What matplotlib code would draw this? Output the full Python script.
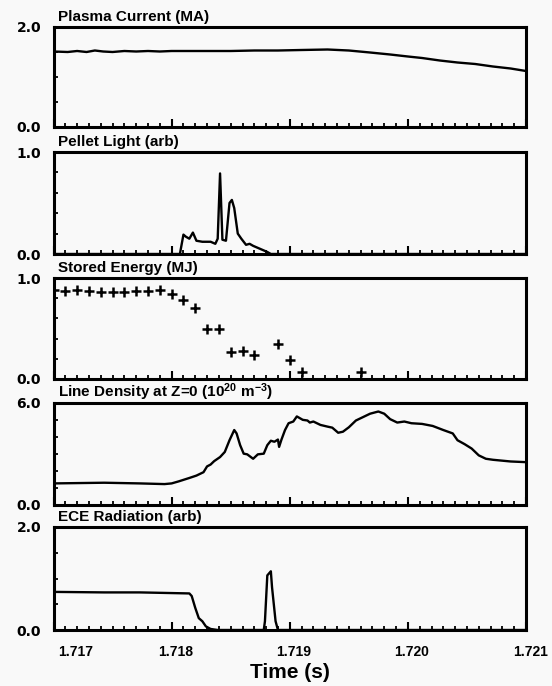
import matplotlib.pyplot as plt
from matplotlib.ticker import MultipleLocator
from matplotlib.transforms import ScaledTranslation

plt.rcParams['font.family'] = ['Liberation Sans', 'DejaVu Sans']
plt.rcParams['font.weight'] = 'bold'
plt.rcParams['mathtext.fontset'] = 'custom'
plt.rcParams['mathtext.rm'] = 'Liberation Sans:bold'
plt.rcParams['mathtext.it'] = 'Liberation Sans:bold'
plt.rcParams['mathtext.bf'] = 'Liberation Sans:bold'

# Plasma current (MA)
ip_t = [1.71700, 1.71712, 1.71720, 1.71728, 1.71735, 1.71742, 1.71750, 1.71760,
        1.71770, 1.71780, 1.71790, 1.71800, 1.71815, 1.71830, 1.71850, 1.71870,
        1.71890, 1.71910, 1.71932, 1.71950, 1.71968, 1.71985, 1.72000, 1.72012,
        1.72027, 1.72042, 1.72057, 1.72072, 1.72087, 1.72100]
ip_v = [1.51, 1.50, 1.52, 1.50, 1.53, 1.51, 1.50, 1.52,
        1.51, 1.52, 1.51, 1.52, 1.52, 1.52, 1.52, 1.53,
        1.53, 1.54, 1.55, 1.53, 1.49, 1.45, 1.41, 1.38,
        1.33, 1.29, 1.26, 1.21, 1.17, 1.12]

# Pellet light (arb)
pl_t = [1.71700, 1.71807, 1.71810, 1.71812, 1.71815, 1.71818, 1.71821, 1.71826,
        1.71833, 1.71837, 1.71839, 1.71841, 1.71843, 1.71846, 1.71849, 1.71851,
        1.71853, 1.71856, 1.71859, 1.71863, 1.71866, 1.71869, 1.71875, 1.71881,
        1.71884, 1.72100]
pl_v = [0.0, 0.0, 0.19, 0.17, 0.15, 0.21, 0.13, 0.12,
        0.12, 0.10, 0.15, 0.79, 0.14, 0.13, 0.50, 0.53,
        0.45, 0.20, 0.15, 0.09, 0.10, 0.08, 0.05, 0.02,
        0.0, 0.0]

# Stored energy (MJ)
we_t = [1.7170, 1.7171, 1.7172, 1.7173, 1.7174, 1.7175, 1.7176, 1.7177,
        1.7178, 1.7179, 1.7180, 1.7181, 1.7182, 1.7183, 1.7184, 1.7185,
        1.7186, 1.7187, 1.7189, 1.7190, 1.7191, 1.7196]
we_v = [0.885, 0.875, 0.885, 0.87, 0.86, 0.86, 0.86, 0.875,
        0.875, 0.885, 0.846, 0.787, 0.705, 0.50, 0.50, 0.27,
        0.28, 0.236, 0.35, 0.187, 0.072, 0.072]

# Line density at Z=0 (1e20 m^-3)
ne_t = [1.71700, 1.71743, 1.71773, 1.71794, 1.71800, 1.71806, 1.71815, 1.71821,
        1.71827, 1.71830, 1.71833, 1.71836, 1.71841, 1.71845, 1.71849, 1.71853,
        1.71855, 1.71858, 1.71861, 1.71864, 1.71869, 1.71873, 1.71878, 1.71881,
        1.71884, 1.71887, 1.71890, 1.71891, 1.71893, 1.71896, 1.71899, 1.71903,
        1.71906, 1.71911, 1.71915, 1.71917, 1.71920, 1.71926, 1.71932, 1.71936,
        1.71941, 1.71945, 1.71950, 1.71956, 1.71962, 1.71968, 1.71975, 1.71980,
        1.71985, 1.71991, 1.71997, 1.72003, 1.72012, 1.72021, 1.72030, 1.72038,
        1.72042, 1.72048, 1.72054, 1.72060, 1.72066, 1.72072, 1.72078, 1.72087,
        1.72100]
ne_v = [1.27, 1.31, 1.27, 1.23, 1.27, 1.39, 1.59, 1.73,
        1.93, 2.27, 2.38, 2.58, 2.82, 3.12, 3.81, 4.41,
        4.21, 3.52, 3.02, 2.98, 2.72, 2.98, 3.02, 3.52,
        3.78, 3.72, 3.85, 3.42, 3.85, 4.41, 4.81, 4.91,
        5.21, 5.01, 4.97, 4.85, 4.91, 4.71, 4.61, 4.55,
        4.25, 4.31, 4.57, 4.97, 5.17, 5.37, 5.50, 5.37,
        5.05, 4.85, 4.91, 4.81, 4.77, 4.65, 4.41, 4.21,
        3.81, 3.58, 3.32, 2.92, 2.72, 2.66, 2.62, 2.56,
        2.52]

# ECE radiation (arb)
ece_t = [1.71700, 1.71743, 1.71773, 1.71815, 1.71817, 1.71820, 1.71823, 1.71826,
         1.71829, 1.71833, 1.71839, 1.71878, 1.71879, 1.71881, 1.71884, 1.71885,
         1.71888, 1.71890, 1.72100]
ece_v = [0.74, 0.73, 0.73, 0.71, 0.66, 0.43, 0.23, 0.17,
         0.07, 0.02, 0.0, 0.0, 0.17, 1.06, 1.14, 0.83,
         0.17, 0.0, 0.0]

titles = ['Plasma Current (MA)', 'Pellet Light (arb)', 'Stored Energy (MJ)',
          r'Line Density at Z=0 (10$^{\mathrm{20}}$ m$^{\mathrm{-3}}$)', 'ECE Radiation (arb)']
ytops = [2.0, 1.0, 1.0, 6.0, 2.0]
ysteps = [0.5, 0.2, 0.2, 1.0, 0.5]
xticks = [1.717, 1.718, 1.719, 1.720, 1.721]
xticklabels = ['1.717', '1.718', '1.719', '1.720', '1.721']

bg = '#f9f9f9'
fig = plt.figure(figsize=(5.52, 6.86), dpi=100, facecolor=bg)

# axes boxes in pixels (top, bottom)
boxes = [(27, 127), (152, 254), (278, 379), (403, 505), (527, 630)]
W, H = 552, 686
x0, x1 = 53.5, 526
axes = []
for (top, bot) in boxes:
    ax = fig.add_axes([x0 / W, 1 - bot / H, (x1 - x0) / W, (bot - top) / H])
    ax.set_facecolor(bg)
    axes.append(ax)

axes[0].plot(ip_t, ip_v, color='black', lw=1.7)
axes[1].plot(pl_t, pl_v, color='black', lw=1.7)
axes[2].plot(we_t, we_v, linestyle='none', marker='+', color='black', ms=6.5, mew=1.8)
axes[3].plot(ne_t, ne_v, color='black', lw=1.7)
axes[4].plot(ece_t, ece_v, color='black', lw=1.7)

for i, ax in enumerate(axes):
    ax.set_xlim(1.717, 1.721)
    ax.set_ylim(0, ytops[i])
    for s in ax.spines.values():
        s.set_linewidth(2.2)
    ax.set_xticks(xticks)
    ax.xaxis.set_minor_locator(MultipleLocator(0.0001))
    ax.tick_params(axis='x', which='major', direction='in', length=5.8, width=1.5)
    ax.tick_params(axis='x', which='minor', direction='in', length=2.9, width=1.3)
    ax.set_yticks([0, ytops[i]])
    ax.set_yticklabels(['0.0', '%.1f' % ytops[i]], fontsize=10,
                       fontweight='bold', family='DejaVu Sans')
    ax.yaxis.set_minor_locator(MultipleLocator(ysteps[i]))
    ax.tick_params(axis='y', which='major', length=0, pad=9)
    ax.tick_params(axis='y', which='minor', direction='in', length=2.6, width=1.3)
    if i < 4:
        ax.set_xticklabels([])
    else:
        ax.set_xticklabels(xticklabels, fontsize=10, fontweight='bold')
        ax.tick_params(axis='x', which='major', pad=10.5)
    ax.annotate(titles[i], xy=(0, 1), xycoords='axes fraction',
                xytext=(3.3, 4.5), textcoords='offset points',
                ha='left', va='baseline', fontsize=11, fontweight='bold')

# the scanned labels sit a little right of their ticks
shift = ScaledTranslation(3 / 72, 0, fig.dpi_scale_trans)
labels = axes[4].get_xticklabels()
for lab in labels:
    lab.set_transform(lab.get_transform() + shift)
labels[0].set_ha('left')

axes[4].set_xlabel('Time (s)', fontsize=15, fontweight='bold', labelpad=3)

fig.savefig('out.png', dpi=100, facecolor=fig.get_facecolor())
